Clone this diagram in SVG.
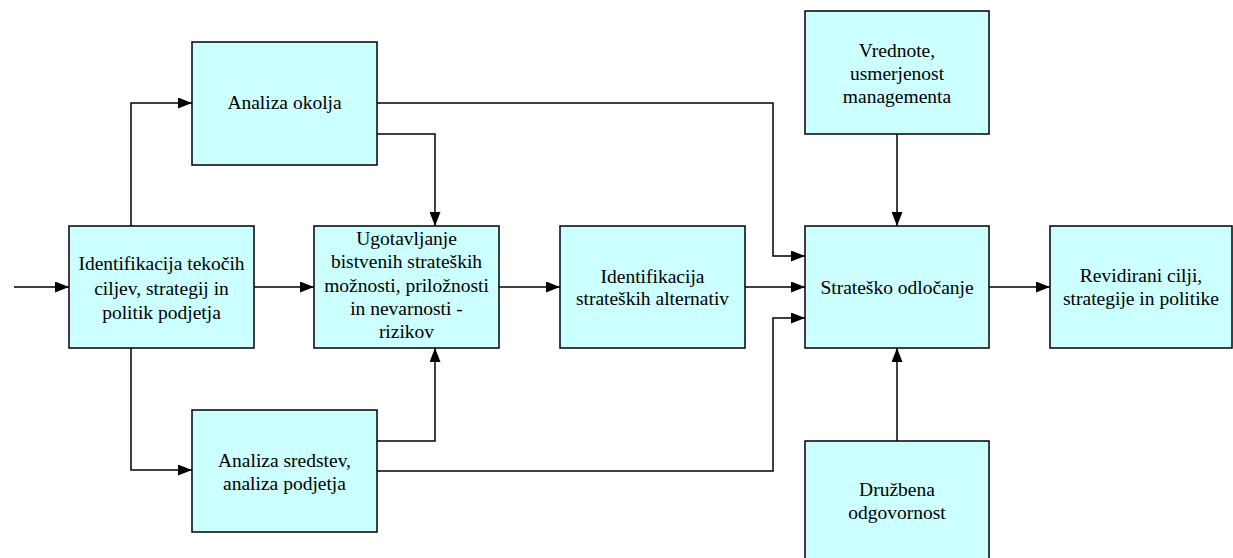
<svg xmlns="http://www.w3.org/2000/svg" width="1233" height="558" viewBox="0 0 1233 558">
<defs>
<marker id="ah" markerWidth="14" markerHeight="11" refX="14" refY="5.5" orient="auto" markerUnits="userSpaceOnUse">
<path d="M0,0 L14,5.5 L0,11 Z" fill="#000"/>
</marker>
<style>
.box{fill:#CCFFFF;stroke:#000;stroke-width:1.5}
.t{font-size:19.5px;fill:#000;text-anchor:middle}
.c{fill:none;stroke:#000;stroke-width:1.5}
</style>
</defs>
<rect width="1233" height="558" fill="#fff"/>
<g id="connectors">
<path class="c" d="M14,287 H69" marker-end="url(#ah)"/>
<path class="c" d="M131,226 V103 H192" marker-end="url(#ah)"/>
<path class="c" d="M131,348 V470 H192" marker-end="url(#ah)"/>
<path class="c" d="M254,287 H314" marker-end="url(#ah)"/>
<path class="c" d="M377,103 H773 V256 H805" marker-end="url(#ah)"/>
<path class="c" d="M377,134 H435 V226" marker-end="url(#ah)"/>
<path class="c" d="M377,441 H435 V348" marker-end="url(#ah)"/>
<path class="c" d="M377,471 H773 V318 H805" marker-end="url(#ah)"/>
<path class="c" d="M499,287 H560" marker-end="url(#ah)"/>
<path class="c" d="M745,287 H805" marker-end="url(#ah)"/>
<path class="c" d="M897,134 V226" marker-end="url(#ah)"/>
<path class="c" d="M897,441 V348" marker-end="url(#ah)"/>
<path class="c" d="M989,287 H1050" marker-end="url(#ah)"/>
</g>
<g font-family="'Liberation Serif', 'Times New Roman', serif">
<g id="analiza-okolja">
<rect class="box" x="192" y="42" width="185" height="123"/>
<text class="t" x="284.5" y="109">Analiza okolja</text>
</g>
<g id="identifikacija-tekocih">
<rect class="box" x="69" y="226" width="185" height="122"/>
<text class="t" x="161.5" y="270">Identifikacija tekočih</text>
<text class="t" x="161.5" y="294.5">ciljev, strategij in</text>
<text class="t" x="161.5" y="318.5">politik podjetja</text>
</g>
<g id="ugotavljanje">
<rect class="box" x="314" y="226" width="185" height="122"/>
<text class="t" x="406.5" y="245">Ugotavljanje</text>
<text class="t" x="406.5" y="268.3">bistvenih strateških</text>
<text class="t" x="406.5" y="291.6">možnosti, priložnosti</text>
<text class="t" x="406.5" y="315">in nevarnosti -</text>
<text class="t" x="406.5" y="338.3">rizikov</text>
</g>
<g id="identifikacija-alternativ">
<rect class="box" x="560" y="226" width="185" height="122"/>
<text class="t" x="652.5" y="283">Identifikacija</text>
<text class="t" x="652.5" y="305">strateških alternativ</text>
</g>
<g id="stratesko-odlocanje">
<rect class="box" x="805" y="226" width="184" height="122"/>
<text class="t" x="897" y="293.5">Strateško odločanje</text>
</g>
<g id="revidirani">
<rect class="box" x="1050" y="226" width="182" height="122"/>
<text class="t" x="1141" y="282">Revidirani cilji,</text>
<text class="t" x="1141" y="305">strategije in politike</text>
</g>
<g id="vrednote">
<rect class="box" x="805" y="11" width="184" height="123"/>
<text class="t" x="897" y="56.5">Vrednote,</text>
<text class="t" x="897" y="79.5">usmerjenost</text>
<text class="t" x="897" y="102.5">managementa</text>
</g>
<g id="analiza-sredstev">
<rect class="box" x="192" y="410" width="185" height="122"/>
<text class="t" x="284.5" y="466.5">Analiza sredstev,</text>
<text class="t" x="284.5" y="489.5">analiza podjetja</text>
</g>
<g id="druzbena">
<rect class="box" x="805" y="441" width="184" height="125"/>
<text class="t" x="897" y="496">Družbena</text>
<text class="t" x="897" y="519">odgovornost</text>
</g>
</g>
</svg>
